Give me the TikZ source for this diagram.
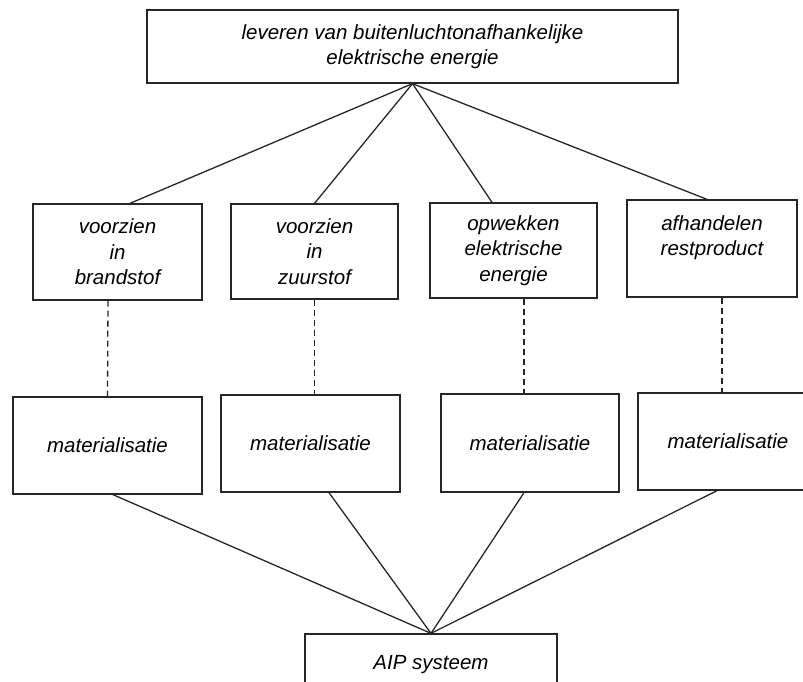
\documentclass[tikz,border=0pt]{standalone}
\usepackage{fontspec}
\setmainfont{Liberation Sans}
\begin{document}
\begin{tikzpicture}[x=1pt,y=-1pt,
  box/.style={draw=black!85, line width=1.3pt, inner sep=0pt, align=center,
    font=\fontsize{20.5}{25.5}\selectfont\itshape},
  conn/.style={draw=black!85, line width=1.3pt},
  dashline/.style={draw=black!85, line width=1.3pt, dash pattern=on 6pt off 4pt}]
\useasboundingbox (0,0) rectangle (803,681);
\node[box, minimum width=531pt, minimum height=73pt] (top) at (412.5,46.5)
  {leveren van buitenluchtonafhankelijke\\elektrische energie};
\node[box, minimum width=169pt, minimum height=96pt] (b1) at (117.5,252) {voorzien\\in\\brandstof};
\node[box, minimum width=167pt, minimum height=95pt] (b2) at (314.5,251.5) {voorzien\\in\\zuurstof};
\node[box, minimum width=167pt, minimum height=95pt] (b3) at (513.5,250.5) {opwekken\\elektrische\\energie};
\node[box, minimum width=170pt, minimum height=97pt] (b4) at (712,248.5) {afhandelen\\restproduct\\\mbox{}};
\node[box, minimum width=189pt, minimum height=97pt] (m1) at (107.5,445.5) {materialisatie};
\node[box, minimum width=179pt, minimum height=97pt] (m2) at (310.5,443.5) {materialisatie};
\node[box, minimum width=178pt, minimum height=98pt] (m3) at (530,443) {materialisatie};
\node[box, minimum width=180pt, minimum height=97pt] (m4) at (728,441.5) {materialisatie};
\node[box, minimum width=252pt, minimum height=62pt] (bot) at (431,665) {AIP systeem};
% top connectors
\draw[conn] (top.south) -- ([xshift=12.5pt]b1.north);
\draw[conn] (top.south) -- (b2.north);
\draw[conn] (top.south) -- ([xshift=-21.5pt]b3.north);
\draw[conn] (top.south) -- ([xshift=-5pt]b4.north);
% dashed
\draw[dashline] ([xshift=-9.5pt]b1.south) -- (m1.north);
\draw[dashline] (b2.south) -- (b2.south |- m2.north);
\draw[dashline] ([xshift=10.5pt]b3.south) -- ([xshift=-6pt]m3.north);
\draw[dashline] ([xshift=10pt]b4.south) -- ([xshift=-6pt]m4.north);
% bottom connectors
\draw[conn] ([xshift=5.5pt]m1.south) -- (bot.north);
\draw[conn] ([xshift=18.5pt]m2.south) -- (bot.north);
\draw[conn] ([xshift=-6pt]m3.south) -- (bot.north);
\draw[conn] ([xshift=-11pt]m4.south) -- (bot.north);
\end{tikzpicture}
\end{document}
